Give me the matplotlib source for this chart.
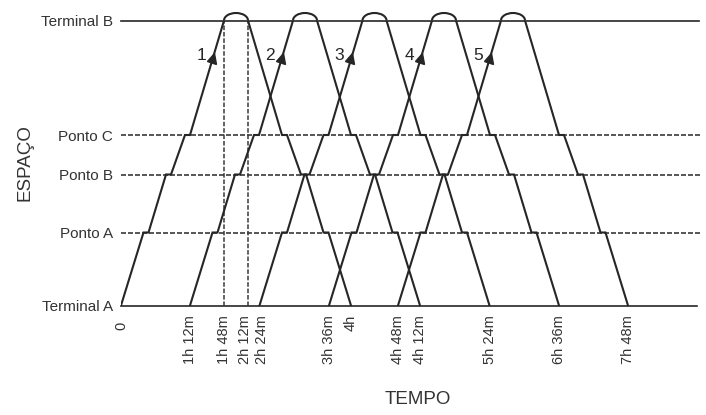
import matplotlib.pyplot as plt
from matplotlib.markers import MarkerStyle
from matplotlib.patches import Arc
from matplotlib.transforms import Affine2D

plt.rcParams['font.family'] = ['Liberation Sans', 'DejaVu Sans']

# stations along the route (distance units, Terminal A at 0)
station_names = ["Terminal A", "Ponto A", "Ponto B", "Ponto C", "Terminal B"]
station_pos = [0, 73, 131, 170.5, 285]

# one trip A -> B, x offsets from departure (diagram units, not to scale)
trip_x = [0, 22.5, 27.5, 45, 50, 64, 69, 103]
trip_stop = [0, 1, 1, 2, 2, 3, 3, 4]
turn_width = 24            # time spent at Terminal B
round_trip = 230

bus_ids = ["1", "2", "3", "4", "5"]
bus_depart = [0, 69, 138.5, 208, 277]

# time axis ticks (positions in diagram units, labels as printed)
tick_pos = [0, 69, 103, 127, 138.5, 208, 230, 277, 299, 368.5, 438, 507]
tick_labels = ["0", "1h 12m", "1h 48m", "2h 12m", "2h 24m", "3h 36m", "4h",
               "4h 48m", "4h 12m", "5h 24m", "6h 36m", "7h 48m"]
# moments bus 1 reaches / leaves Terminal B
marker_times = [103, 127]

ink = '#262626'
txt = '#333333'
fig = plt.figure(figsize=(7.06, 4.15), dpi=100)
ax = fig.add_axes([121 / 706, (415 - 305.5) / 415, 579 / 706, 285 / 415])
ax.set_xlim(0, 579)
ax.set_ylim(0, 285)
for s in ax.spines.values():
    s.set_visible(False)

# horizontal reference lines
ax.plot([0, 576], [station_pos[0]] * 2, color=ink, lw=1.2, clip_on=False)
ax.plot([0, 578], [station_pos[-1]] * 2, color=ink, lw=1.2, clip_on=False)
for p in station_pos[1:-1]:
    ax.plot([0, 579], [p, p], color='#3a3a3a', lw=1.2, ls=(0, (3, 1.2)))
ax.vlines(marker_times, station_pos[0], station_pos[-1], color='#3a3a3a',
          lw=1.1, ls=(0, (3, 1.2)))

up_y = [station_pos[i] for i in trip_stop]
arrow_frac = 0.672
for bid, d in zip(bus_ids, bus_depart):
    xs_up = [d + x for x in trip_x]
    xs_down = [d + round_trip - x for x in trip_x[::-1]]
    ax.plot(xs_up, up_y, color=ink, lw=1.5, solid_joinstyle='miter')
    ax.plot(xs_down, up_y[::-1], color=ink, lw=1.5, solid_joinstyle='miter')
    top = Arc((d + trip_x[-1] + turn_width / 2, station_pos[-1]), turn_width, 15,
              theta1=0, theta2=180, color=ink, lw=1.5, clip_on=False)
    ax.add_patch(top)
    # direction arrow on the last climb
    x0, x1 = xs_up[-2], xs_up[-1]
    y0, y1 = up_y[-2], up_y[-1]
    ax_ = x0 + (x1 - x0) * arrow_frac
    ay_ = y0 + (y1 - y0) * arrow_frac
    m = MarkerStyle('^', transform=Affine2D().rotate_deg(-16.5))
    ax.plot([ax_], [ay_], marker=m, ms=7, color=ink, mec=ink)
    ax.annotate(bid, (ax_, ay_), xytext=(-8.5, 2), textcoords='offset points',
                ha='center', va='center', fontsize=12.5, color=ink)

ax.set_yticks(station_pos)
ax.set_yticklabels(station_names, fontsize=11, color=txt)
ax.tick_params(axis='y', length=0, pad=6)
ax.set_xticks([])

# time labels, written under the axis; crowded pair nudged apart a little
for pos, lab in zip(tick_pos, tick_labels):
    dx, dy = 0, -7
    if lab == "2h 12m":
        dx = -2
    elif lab == "2h 24m":
        dx = 2
    elif lab == "0":
        dy = -12
    ax.annotate(lab, (pos, 0), xytext=(dx, dy), textcoords='offset points',
                rotation=90, ha='center', va='top', fontsize=10.5, color=txt,
                annotation_clip=False)

fig.text(25 / 706, 1 - 163 / 415, "ESPAÇO", rotation=90, ha='center', va='center',
         fontsize=13.5, color=txt)
fig.text(418 / 706, 1 - 399 / 415, "TEMPO", ha='center', va='center',
         fontsize=13.5, color=txt)

fig.savefig("out.png", dpi=100)
